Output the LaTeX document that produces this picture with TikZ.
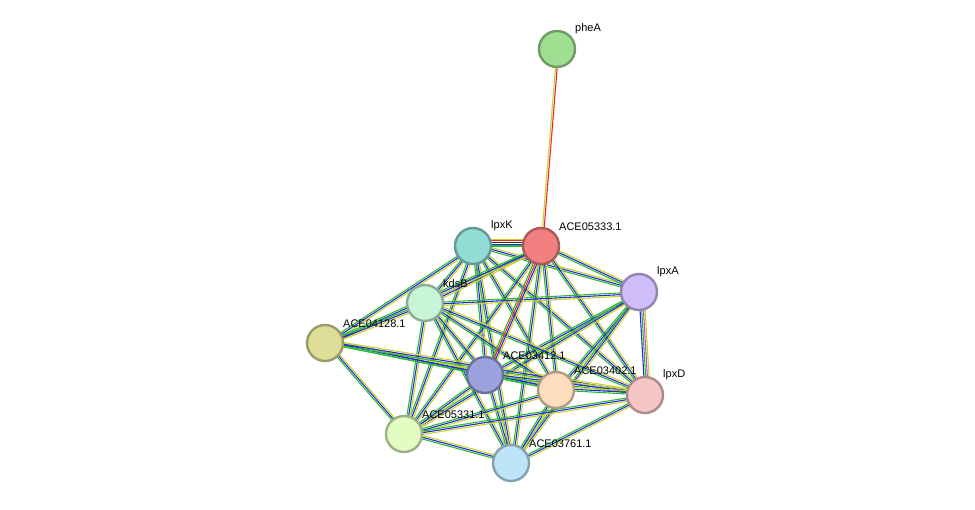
\documentclass[tikz,border=0pt]{standalone}
\usepackage{fontspec}
\setmainfont{Liberation Sans}
\usetikzlibrary{calc}
\definecolor{egreen}{RGB}{40,190,40}
\definecolor{eblue}{RGB}{40,40,230}
\definecolor{eyellow}{RGB}{200,210,40}
\definecolor{ered}{RGB}{235,40,40}
\definecolor{eblack}{RGB}{40,40,40}
\definecolor{epurple}{RGB}{190,80,220}
\tikzset{
    prot/.style={circle, draw=#1!70!black, fill=#1, line width=2.4pt, minimum size=36pt, inner sep=0pt},
    lbl/.style={font=\fontsize{11}{13}\selectfont, inner sep=1pt, anchor=south west},
    link/.style={line width=1.1pt},
}
% parallel coloured lines between two nodes
\newcommand{\strlink}[3]{%
  \foreach \c [count=\i] in {#3} {
    \pgfmathsetmacro{\off}{(\i-1)*1.7}
    \draw[link, \c] ($(#1)!\off pt!90:(#2)$) -- ($(#2)!\off pt!-90:(#1)$);
  }
}
\begin{document}
\begin{tikzpicture}[x=1pt, y=-1pt]
    \useasboundingbox (0,0) rectangle (975,509);
    \definecolor{cphe}{RGB}{160,222,145}
    \definecolor{c333}{RGB}{242,128,128}
    \definecolor{ckk}{RGB}{145,220,212}
    \definecolor{ca}{RGB}{208,190,250}
    \definecolor{ckd}{RGB}{200,245,215}
    \definecolor{c128}{RGB}{222,222,152}
    \definecolor{c412}{RGB}{155,162,222}
    \definecolor{c402}{RGB}{252,222,190}
    \definecolor{cd}{RGB}{246,198,198}
    \definecolor{c331}{RGB}{226,252,194}
    \definecolor{c761}{RGB}{190,228,250}

    % coordinates of the proteins
    \coordinate (pheA) at (557,49);
    \coordinate (ace333) at (541,246);
    \coordinate (lpxK) at (473,246);
    \coordinate (lpxA) at (639,292);
    \coordinate (kdsB) at (425,303);
    \coordinate (ace128) at (325,343);
    \coordinate (ace412) at (485,375);
    \coordinate (ace402) at (556,390);
    \coordinate (lpxD) at (645,395);
    \coordinate (ace331) at (404,434);
    \coordinate (ace761) at (511,463);

    % links
    \strlink{pheA}{ace333}{eyellow,ered}
    \foreach \a/\b in {lpxK/kdsB, lpxK/ace128, lpxK/ace412, lpxK/ace402, lpxK/lpxD, lpxK/ace331, lpxK/ace761, lpxK/lpxA,
        ace333/kdsB, ace333/ace128, ace333/lpxA, ace333/ace402, ace333/lpxD, ace333/ace331, ace333/ace761,
        lpxA/kdsB, lpxA/ace412, lpxA/ace402, lpxA/ace331, lpxA/ace761,
        kdsB/ace128, kdsB/ace412, kdsB/ace402, kdsB/ace331, kdsB/ace761, kdsB/lpxD,
        ace128/ace412, ace128/ace402, ace128/lpxD, ace128/ace331,
        ace412/ace402, ace412/lpxD, ace412/ace331, ace412/ace761,
        ace402/lpxD, ace402/ace331, ace402/ace761,
        lpxD/ace331, lpxD/ace761, ace331/ace761}
        {\strlink{\a}{\b}{egreen,eblue,eyellow}}
    \strlink{lpxK}{ace333}{egreen,eblue,eblack,ered,eyellow}
    \strlink{ace333}{ace412}{egreen,ered,eblue,eyellow}
    \strlink{lpxA}{lpxD}{eblue,egreen,epurple,eyellow}

    % proteins
    \node[prot=cphe] (nphe) at (pheA) {};
    \node[prot=c333] (n333) at (ace333) {};
    \node[prot=ckk] (nkk) at (lpxK) {};
    \node[prot=ca] (na) at (lpxA) {};
    \node[prot=ckd] (nkd) at (kdsB) {};
    \node[prot=c128] (n128) at (ace128) {};
    \node[prot=c412] (n412) at (ace412) {};
    \node[prot=c402] (n402) at (ace402) {};
    \node[prot=cd] (nd) at (lpxD) {};
    \node[prot=c331] (n331) at (ace331) {};
    \node[prot=c761] (n761) at (ace761) {};

    % labels
    \node[lbl] at ($(pheA)+(17,-14)$) {pheA};
    \node[lbl] at ($(ace333)+(17,-14)$) {ACE05333.1};
    \node[lbl] at ($(lpxK)+(17,-14)$) {lpxK};
    \node[lbl] at ($(lpxA)+(17,-14)$) {lpxA};
    \node[lbl] at ($(kdsB)+(17,-14)$) {kdsB};
    \node[lbl] at ($(ace128)+(17,-14)$) {ACE04128.1};
    \node[lbl] at ($(ace412)+(17,-14)$) {ACE03412.1};
    \node[lbl] at ($(ace402)+(17,-14)$) {ACE03402.1};
    \node[lbl] at ($(lpxD)+(17,-14)$) {lpxD};
    \node[lbl] at ($(ace331)+(17,-14)$) {ACE05331.1};
    \node[lbl] at ($(ace761)+(17,-14)$) {ACE03761.1};
\end{tikzpicture}
\end{document}
